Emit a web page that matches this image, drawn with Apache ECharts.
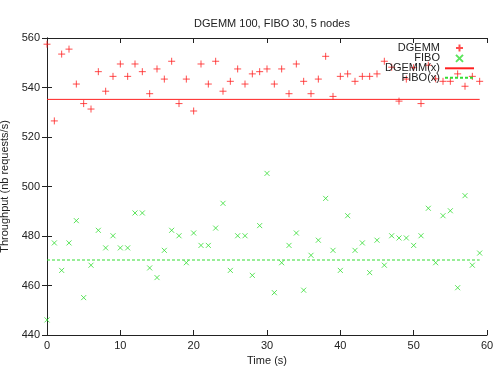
<!DOCTYPE html>
<html>
<head>
<meta charset="utf-8">
<script src="https://cdn.jsdelivr.net/npm/echarts@6/dist/echarts.min.js"></script>
<style>
  html, body { margin: 0; padding: 0; background: #fff; }
  #chart { width: 497px; height: 373px; }
</style>
</head>
<body>
<div id="chart"></div>
<script>
// time in seconds, one sample per second
const times = Array.from({ length: 60 }, (_, i) => i);
const dgemm = [557.5, 526.5, 553.5, 555.5, 541.4, 533.5, 531.3, 546.4, 538.5, 544.5,
  549.5, 544.5, 549.5, 546.4, 537.5, 547.5, 543.4, 550.6, 533.5, 543.4,
  530.5, 549.5, 541.4, 550.6, 538.5, 542.5, 547.5, 541.4, 545.5, 546.4,
  547.5, 541.4, 547.5, 537.5, 549.5, 542.5, 537.5, 543.4, 552.6, 536.4,
  544.5, 545.5, 542.5, 544.5, 544.5, 545.5, 550.6, 548.2, 534.5, 543.4,
  548.0, 533.5, 549.0, 543.5, 542.5, 542.5, 545.5, 540.5, 544.5, 542.5];
const fibo = [446.1, 477.2, 466.1, 477.2, 486.2, 455.1, 468.2, 482.3, 475.2, 480.1,
  475.2, 475.2, 489.3, 489.3, 467.1, 463.2, 474.2, 482.3, 480.1, 469.2,
  481.2, 476.2, 476.2, 483.2, 493.2, 466.1, 480.1, 480.1, 464.1, 484.2,
  505.3, 457.1, 469.2, 476.2, 481.2, 458.1, 472.2, 478.3, 495.2, 474.2,
  466.1, 488.2, 474.2, 477.2, 465.2, 478.3, 468.2, 480.1, 479.2, 479.2,
  476.2, 480.1, 491.2, 469.2, 488.2, 490.2, 459.1, 496.3, 468.2, 473.1];
const fitRange = [0, 59];
const dgemmFit = 535.2;
const fiboFit = 470.3;
const xTicks = [0, 10, 20, 30, 40, 50, 60];
const yTicks = [440, 460, 480, 500, 520, 540, 560];

const RED = '#ff2020';
const GREEN = '#33dd33';
const FONT = 'Liberation Sans, Arial, sans-serif';
const plus = 'path://M5,0L5,10M0,5L10,5';
const cross = 'path://M0,0L10,10M10,0L0,10';
// open 2-point path: filled, so nothing shows in the legend icon
const nothing = 'path://M0,0L1,1';

const chart = echarts.init(document.getElementById('chart'), null, { renderer: 'canvas' });

const tickCommon = {
  axisLine: { show: true, lineStyle: { color: '#222', width: 1 } },
  axisTick: { show: true, inside: true, length: 5, lineStyle: { color: '#222' } },
  splitLine: { show: false }
};

const xAxisBase = Object.assign({
  type: 'value', min: xTicks[0], max: xTicks[xTicks.length - 1], interval: 10
}, tickCommon);
const yAxisBase = Object.assign({
  type: 'value', min: yTicks[0], max: yTicks[yTicks.length - 1], interval: 20
}, tickCommon);

const option = {
  animation: false,
  backgroundColor: '#fff',
  textStyle: { fontFamily: FONT },
  title: {
    text: 'DGEMM 100, FIBO 30, 5 nodes',
    left: 267, top: 13, textAlign: 'center',
    textStyle: { fontSize: 11, fontWeight: 'normal', color: '#222', fontFamily: FONT }
  },
  grid: { left: 47, right: 10, top: 38, bottom: 38, containLabel: false, outerBoundsMode: 'none' },
  legend: {
    orient: 'vertical',
    right: 22, top: 42, padding: 0,
    align: 'right',
    itemWidth: 29, itemHeight: 7, itemGap: -1.6,
    textStyle: { fontSize: 11, lineHeight: 10, color: '#222', fontFamily: FONT },
    data: ['DGEMM', 'FIBO', 'DGEMM(x)', 'FIBO(x)']
  },
  xAxis: [
    Object.assign({}, xAxisBase, {
      position: 'bottom',
      name: 'Time (s)', nameLocation: 'middle', nameGap: 20,
      nameTextStyle: { fontSize: 11, color: '#222', fontFamily: FONT },
      axisLabel: { fontSize: 11, color: '#222', margin: 5, fontFamily: FONT }
    }),
    Object.assign({}, xAxisBase, { position: 'top', axisLabel: { show: false } })
  ],
  yAxis: [
    Object.assign({}, yAxisBase, {
      position: 'left',
      name: 'Throughput (nb requests/s)', nameLocation: 'middle', nameGap: 29,
      nameTextStyle: { fontSize: 11, color: '#222', fontFamily: FONT },
      axisLabel: { fontSize: 11, color: '#222', margin: 7, fontFamily: FONT }
    }),
    Object.assign({}, yAxisBase, { position: 'right', axisLabel: { show: false } })
  ],
  series: [
    {
      name: 'DGEMM', type: 'scatter',
      symbol: plus, symbolSize: 7, symbolKeepAspect: true,
      itemStyle: { color: 'none', borderColor: RED, borderWidth: 1 },
      data: times.map((t, i) => [t, dgemm[i]])
    },
    {
      name: 'FIBO', type: 'scatter',
      symbol: cross, symbolSize: 5, symbolKeepAspect: true,
      itemStyle: { color: 'none', borderColor: GREEN, borderWidth: 1 },
      data: times.map((t, i) => [t, fibo[i]])
    },
    {
      name: 'DGEMM(x)', type: 'line', symbol: nothing, showSymbol: false,
      itemStyle: { color: 'rgba(0,0,0,0)' },
      lineStyle: { color: RED, width: 1 },
      data: fitRange.map(t => [t, dgemmFit])
    },
    {
      name: 'FIBO(x)', type: 'line', symbol: nothing, showSymbol: false,
      itemStyle: { color: 'rgba(0,0,0,0)' },
      lineStyle: { color: GREEN, width: 1, type: [3, 2] },
      data: fitRange.map(t => [t, fiboFit])
    }
  ]
};

chart.setOption(option);
</script>
</body>
</html>
